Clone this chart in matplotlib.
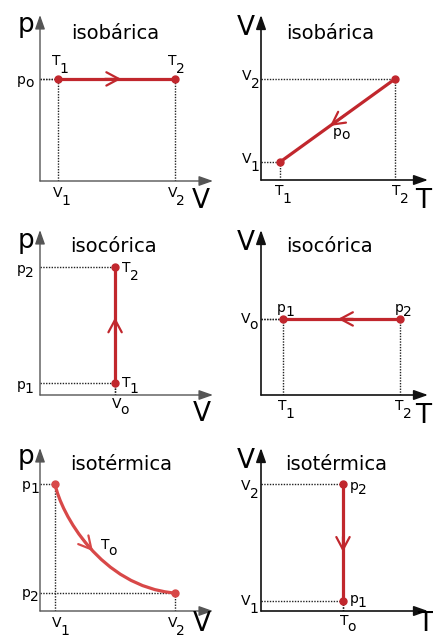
import numpy as np
import matplotlib
matplotlib.use("Agg")
import matplotlib.pyplot as plt
from matplotlib.path import Path
from matplotlib.patches import PathPatch

# ---------------------------------------------------------------------------
# State values of the six processes (arbitrary units, axes run from 0 to 10)
# ---------------------------------------------------------------------------
# isobaric, p-V plane: V1 -> V2 at constant p
isobar_pV_V = [1.05, 7.80]
isobar_pV_p = [6.15, 6.15]
# isobaric, V-T plane: (T2, V2) -> (T1, V1)
isobar_VT_T = [8.02, 1.14]
isobar_VT_V = [6.12, 1.09]
# isochoric, p-V plane: p1 -> p2 at constant V
isochor_pV_V = [4.34, 4.34]
isochor_pV_p = [0.73, 7.76]
# isochoric, V-T plane: T2 -> T1 at constant V
isochor_VT_T = [8.32, 1.32]
isochor_VT_V = [4.61, 4.61]
# isothermal, p-V plane: Bezier nodes of the isotherm from (V1, p1) to (V2, p2)
isotherm_pV_V = [0.87, 1.20, 3.50, 7.80]
isotherm_pV_p = [7.79, 6.00, 1.50, 1.10]
# isothermal, V-T plane: V2 -> V1 at constant T
isotherm_VT_T = [4.91, 4.91]
isotherm_VT_V = [7.79, 0.61]

titles = ["isobárica", "isobárica", "isocórica", "isocórica",
          "isotérmica", "isotérmica"]

W, H = 433, 637
PX = 72 / 100.0          # points per pixel
RED = "#c1272d"
RED_LIGHT = "#d84848"
LABEL_FS = 10
BIG_FS = 19
TITLE_FS = 14
ADV = {"T": 0.611, "V": 0.684, "p": 0.635}
DROP = {"T": 8, "V": 8, "p": 4}

fig = plt.figure(figsize=(W / 100, H / 100), dpi=100)


def make_axes(x0, y0, w, h):
    """Axes whose origin sits at pixel (x0, y0), measured from the top-left."""
    ax = fig.add_axes([x0 / W, 1 - y0 / H, w / W, h / H])
    ax.set_xlim(0, 10)
    ax.set_ylim(0, 10)
    ax.axis("off")
    return ax


def frame(ax, color, lw):
    style = "-|>,head_length=0.85,head_width=0.3"
    for tip in [(10, 0), (0, 10)]:
        ax.annotate("", xy=tip, xytext=(0, 0),
                    arrowprops=dict(arrowstyle=style, color=color, lw=lw,
                                    shrinkA=0, shrinkB=0, mutation_scale=10),
                    annotation_clip=False)


def big(ax, xy, letter, dx, dy):
    ax.annotate(letter, xy=xy, xytext=(dx * PX, dy * PX),
                textcoords="offset points", fontsize=BIG_FS,
                ha="left", va="baseline", annotation_clip=False)


def sym(ax, xy, base, sub, dx, dy, drop=None):
    ax.annotate(base, xy=xy, xytext=(dx * PX, dy * PX),
                textcoords="offset points", fontsize=LABEL_FS,
                ha="left", va="baseline", annotation_clip=False)
    if drop is None:
        drop = DROP[base] - (2 if sub == "o" and base != "p" else 0)
    sdx = dx + 0.9 * ADV[base] * LABEL_FS / PX
    sdy = dy - drop
    ax.annotate(sub, xy=xy, xytext=(sdx * PX, sdy * PX),
                textcoords="offset points", fontsize=LABEL_FS,
                ha="left", va="baseline", annotation_clip=False)


def guides(ax, xs, ys):
    for x, y in zip(xs, ys):
        ax.plot([0, x], [y, y], color="#222222", lw=1.0, ls=(0, (1, 1)))
        ax.plot([x, x], [0, y], color="#222222", lw=1.0, ls=(0, (1, 1)))


def process(ax, xs, ys, color=RED):
    ax.plot(xs, ys, color=color, lw=2.3, solid_capstyle="butt", zorder=3)
    ax.plot([xs[0], xs[-1]], [ys[0], ys[-1]], "o", ms=5, color=color,
            zorder=4)


def chevron(ax, tip, tail, color=RED):
    ax.annotate("", xy=tip, xytext=tail,
                arrowprops=dict(arrowstyle="->,head_length=0.45,head_width=0.24",
                                color=color, lw=1.6, shrinkA=0, shrinkB=0,
                                mutation_scale=20),
                zorder=5)


def along(xs, ys, f):
    return (xs[0] + f * (xs[-1] - xs[0]), ys[0] + f * (ys[-1] - ys[0]))


def title(cx, by, text):
    fig.text(cx / W, 1 - by / H, text, fontsize=TITLE_FS, ha="center",
             va="baseline")


LEFT_AX = "#555555"
RIGHT_AX = "#111111"

# --- isobaric, p-V -----------------------------------------------------------
ax = make_axes(40, 181, 173, 166)
frame(ax, LEFT_AX, 1.0)
guides(ax, isobar_pV_V, isobar_pV_p)
process(ax, isobar_pV_V, isobar_pV_p)
chevron(ax, along(isobar_pV_V, isobar_pV_p, 0.54),
        along(isobar_pV_V, isobar_pV_p, 0.40))
big(ax, (0, 10), "p", -22, -17)
big(ax, (10, 0), "V", -21, -27)
sym(ax, (isobar_pV_V[0], isobar_pV_p[0]), "T", "1", -6, 14)
sym(ax, (isobar_pV_V[1], isobar_pV_p[1]), "T", "2", -7, 14)
sym(ax, (0, isobar_pV_p[0]), "p", "o", -23, -5, drop=3)
sym(ax, (isobar_pV_V[0], 0), "V", "1", -5, -16)
sym(ax, (isobar_pV_V[1], 0), "V", "2", -7, -16)
title(115, 39, titles[0])

# --- isobaric, V-T -----------------------------------------------------------
ax = make_axes(261, 180, 167, 165)
frame(ax, RIGHT_AX, 1.2)
guides(ax, isobar_VT_T, isobar_VT_V)
process(ax, isobar_VT_T, isobar_VT_V)
chevron(ax, along(isobar_VT_T, isobar_VT_V, 0.565),
        along(isobar_VT_T, isobar_VT_V, 0.44))
big(ax, (0, 10), "V", -24, -20)
big(ax, (10, 0), "T", -13, -28)
sym(ax, (0, isobar_VT_V[0]), "V", "2", -19, -1)
sym(ax, (0, isobar_VT_V[1]), "V", "1", -19, -1)
sym(ax, (isobar_VT_T[1], 0), "T", "1", -5, -15)
sym(ax, (isobar_VT_T[0], 0), "T", "2", -3, -15)
sym(ax, along(isobar_VT_T, isobar_VT_V, 0.565), "p", "o", 3, -10, drop=3)
title(330, 39, titles[1])

# --- isochoric, p-V ----------------------------------------------------------
ax = make_axes(40, 395, 173, 165)
frame(ax, LEFT_AX, 1.0)
guides(ax, isochor_pV_V, isochor_pV_p)
process(ax, isochor_pV_V, isochor_pV_p)
chevron(ax, along(isochor_pV_V, isochor_pV_p, 0.565),
        along(isochor_pV_V, isochor_pV_p, 0.42))
big(ax, (0, 10), "p", -22, -18)
big(ax, (10, 0), "V", -20, -26)
sym(ax, (0, isochor_pV_p[1]), "p", "2", -23, -6)
sym(ax, (0, isochor_pV_p[0]), "p", "1", -23, -6)
sym(ax, (isochor_pV_V[1], isochor_pV_p[1]), "T", "2", 7, -5)
sym(ax, (isochor_pV_V[0], isochor_pV_p[0]), "T", "1", 7, -4, drop=6)
sym(ax, (isochor_pV_V[0], 0), "V", "o", -3, -13)
title(113.5, 252, titles[2])

# --- isochoric, V-T ----------------------------------------------------------
ax = make_axes(261, 395, 167, 165)
frame(ax, RIGHT_AX, 1.2)
guides(ax, isochor_VT_T, isochor_VT_V)
process(ax, isochor_VT_T, isochor_VT_V)
chevron(ax, along(isochor_VT_T, isochor_VT_V, 0.53),
        along(isochor_VT_T, isochor_VT_V, 0.40))
big(ax, (0, 10), "V", -24, -20)
big(ax, (10, 0), "T", -13, -28)
sym(ax, (isochor_VT_T[1], isochor_VT_V[1]), "p", "1", -6, 7)
sym(ax, (isochor_VT_T[0], isochor_VT_V[0]), "p", "2", -5, 7)
sym(ax, (0, isochor_VT_V[0]), "V", "o", -20, -4)
sym(ax, (isochor_VT_T[1], 0), "T", "1", -5, -15)
sym(ax, (isochor_VT_T[0], 0), "T", "2", -5, -15)
title(329, 252, titles[3])

# --- isothermal, p-V ---------------------------------------------------------
ax = make_axes(40, 611, 173, 163)
frame(ax, LEFT_AX, 1.0)
ends_V = [isotherm_pV_V[0], isotherm_pV_V[-1]]
ends_p = [isotherm_pV_p[0], isotherm_pV_p[-1]]
guides(ax, ends_V, ends_p)
nodes = np.column_stack([isotherm_pV_V, isotherm_pV_p])
curve = Path(nodes, [Path.MOVETO, Path.CURVE4, Path.CURVE4, Path.CURVE4])
ax.add_patch(PathPatch(curve, facecolor="none", edgecolor=RED_LIGHT, lw=2.3,
                       zorder=3))
ax.plot(ends_V, ends_p, "o", ms=5, color=RED_LIGHT, zorder=4)


def bezier(t):
    c = np.array([(1 - t) ** 3, 3 * t * (1 - t) ** 2, 3 * t ** 2 * (1 - t), t ** 3])
    return tuple(c @ nodes)


chevron(ax, bezier(0.53), bezier(0.44), RED_LIGHT)
big(ax, (0, 10), "p", -22, -16)
big(ax, (10, 0), "V", -20, -20)
sym(ax, (0, ends_p[0]), "p", "1", -18, -5)
sym(ax, (0, ends_p[1]), "p", "2", -18, -4)
sym(ax, (ends_V[0], 0), "V", "1", -3, -16)
sym(ax, (ends_V[1], 0), "V", "2", -7, -16)
sym(ax, bezier(0.53), "T", "o", 8, 2)
title(121.5, 470, titles[4])

# --- isothermal, V-T ---------------------------------------------------------
ax = make_axes(261, 611, 167, 163)
frame(ax, RIGHT_AX, 1.2)
guides(ax, isotherm_VT_T, isotherm_VT_V)
process(ax, isotherm_VT_T, isotherm_VT_V)
chevron(ax, along(isotherm_VT_T, isotherm_VT_V, 0.58),
        along(isotherm_VT_T, isotherm_VT_V, 0.45))
big(ax, (0, 10), "V", -24, -20)
big(ax, (10, 0), "T", -11, -20)
sym(ax, (0, isotherm_VT_V[0]), "V", "2", -20, -6)
sym(ax, (0, isotherm_VT_V[1]), "V", "1", -20, -4)
sym(ax, (isotherm_VT_T[0], isotherm_VT_V[0]), "p", "2", 7, -6)
sym(ax, (isotherm_VT_T[1], isotherm_VT_V[1]), "p", "1", 7, -2)
sym(ax, (isotherm_VT_T[0], 0), "T", "o", -3, -14)
title(336.5, 470, titles[5])

fig.savefig("out.png", dpi=100)
